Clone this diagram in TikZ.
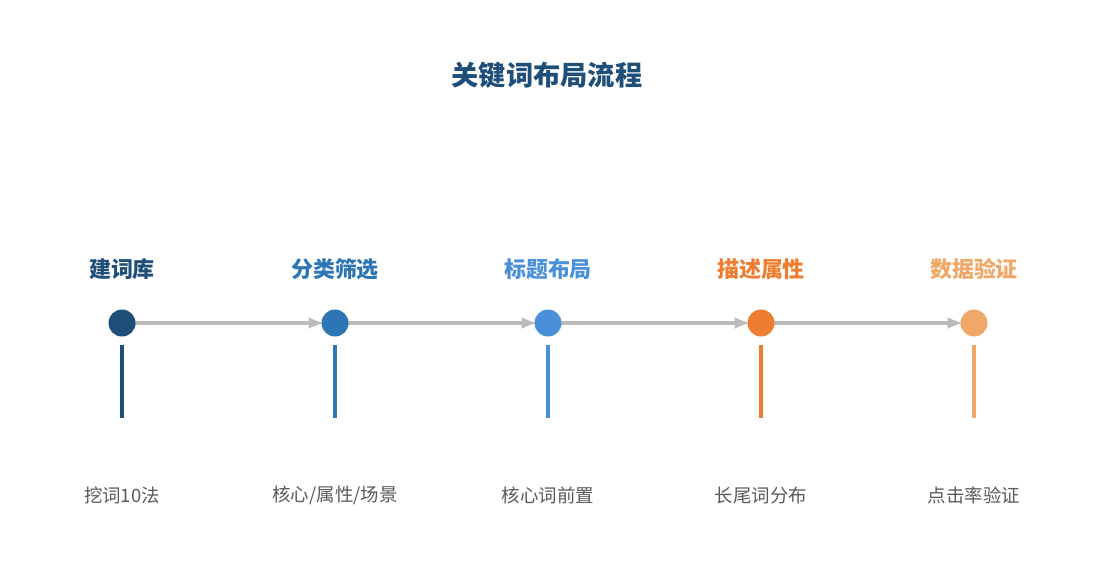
\documentclass[tikz,border=0pt]{standalone}
\usepackage{fontspec}
\setmainfont{Noto Sans CJK SC}
\usetikzlibrary{positioning}
\definecolor{cA}{HTML}{1F4E79}
\definecolor{cB}{HTML}{2E75B6}
\definecolor{cC}{HTML}{4A90D9}
\definecolor{cD}{HTML}{ED7D31}
\definecolor{cE}{HTML}{F0A868}
\definecolor{line}{HTML}{BBBBBB}
\definecolor{txt}{HTML}{595959}
\begin{document}
\begin{tikzpicture}
    [
    x=0.02cm,y=-0.02cm,
    step/.style={font=\fontsize{12.5}{14}\selectfont\bfseries,text=#1},
    note/.style={font=\fontsize{10.5}{12}\selectfont,text=txt},
    stem/.style={line width=2pt,draw=#1},
    link/.style={draw=line,line width=2pt,-latex,shorten >=0.22cm},
    ]
    \useasboundingbox (0,0) rectangle (1095,585);
    \node (title) at (547,75) [font=\fontsize{15.5}{18}\selectfont\bfseries,text=cA] {关键词布局流程};

    % timeline
    \foreach \i/\x/\c/\t/\n in {1/122/cA/建词库/挖词10法,
                               2/335/cB/分类筛选/{核心/属性/场景},
                               3/548/cC/标题布局/核心词前置,
                               4/761/cD/描述属性/长尾词分布,
                               5/974/cE/数据验证/点击率验证}
    {
      \coordinate (p\i) at (\x,323);
      \node (s\i) at (\x,269) [step=\c] {\t};
      \coordinate (u\i) at (\x,345);
      \coordinate (d\i) at (\x,418);
      \draw [stem=\c] (u\i) to (d\i);
      \node (n\i) at (\x,495) [note] {\n};
    }
    \draw [link] (p1) to (p2);
    \draw [link] (p2) to (p3);
    \draw [link] (p3) to (p4);
    \draw [link] (p4) to (p5);

    \foreach \i/\c in {1/cA,2/cB,3/cC,4/cD,5/cE}
      \fill [\c] (p\i) circle (13.5);
  \end{tikzpicture}
\end{document}
